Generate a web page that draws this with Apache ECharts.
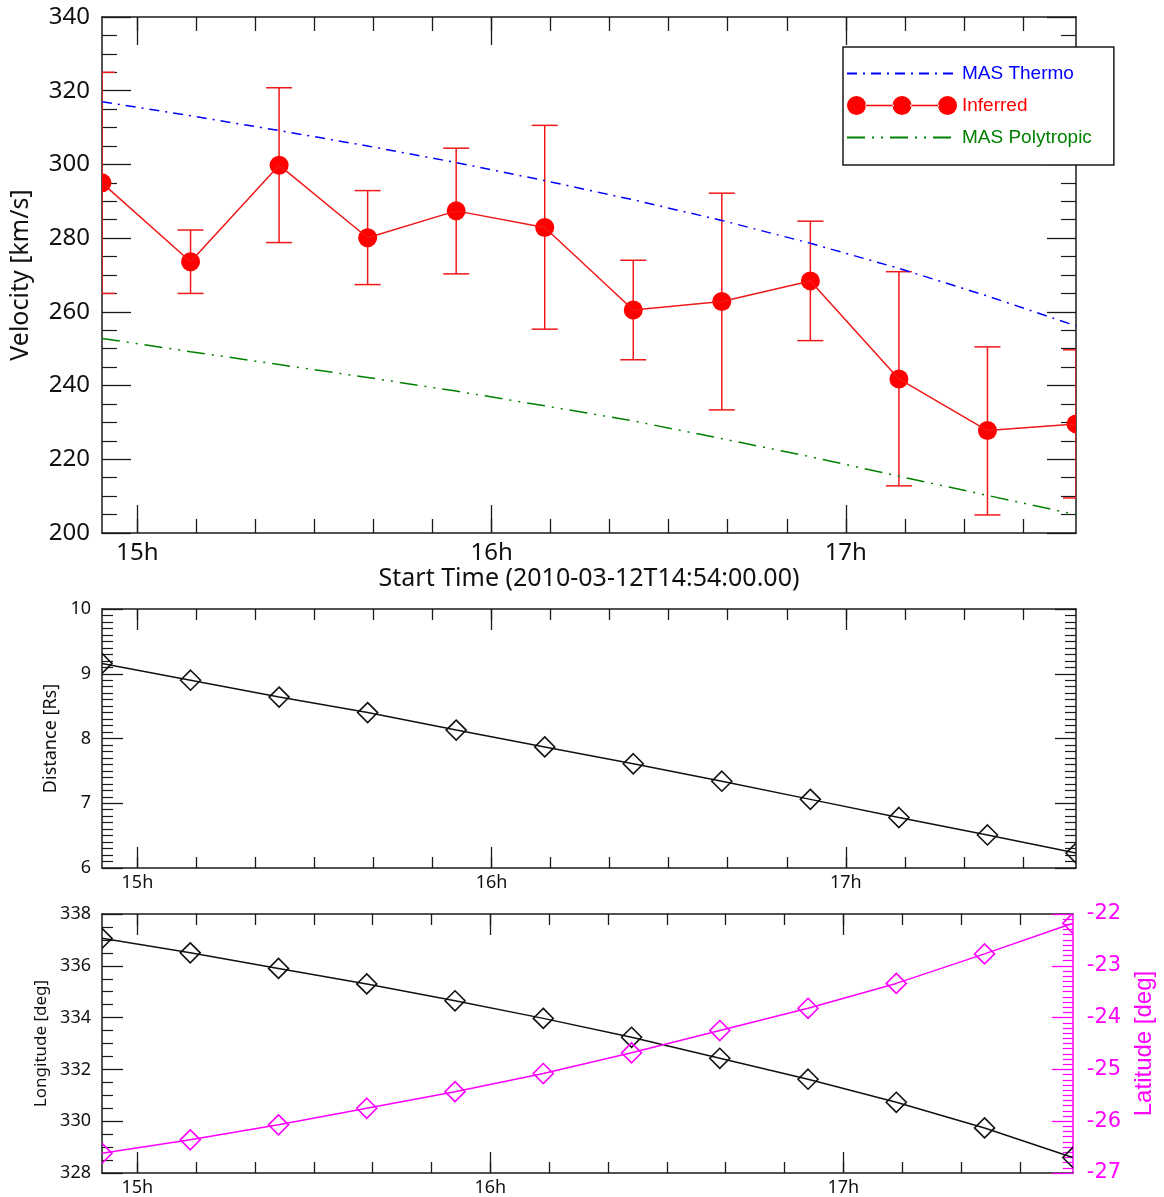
<!DOCTYPE html>
<html>
<head>
<meta charset="utf-8">
<script src="https://cdn.jsdelivr.net/npm/echarts@6/dist/echarts.min.js"></script>
<style>
html,body{margin:0;padding:0;background:#fff;}
#chart{width:1164px;height:1197px;}
</style>
</head>
<body>
<div id="chart"></div>
<script>
// ---- data ----
const times = ["14:54","15:09","15:24","15:39","15:54","16:09","16:24","16:39","16:54","17:09","17:24","17:39"];
const inferred  = [295.0, 273.6, 299.8, 280.1, 287.4, 282.9, 260.5, 262.8, 268.4, 241.8, 227.8, 229.6];
const errLow    = [265.0, 265.0, 278.8, 267.4, 270.3, 255.3, 247.0, 233.4, 252.2, 212.8, 204.9, 209.5];
const errHigh   = [325.0, 282.2, 320.8, 292.9, 304.4, 310.6, 274.0, 292.2, 284.6, 270.9, 250.5, 249.7];
const masThermo = [317.0, 313.2, 309.2, 305.0, 300.5, 295.6, 290.4, 284.8, 278.6, 271.8, 264.3, 256.2];
const masPoly   = [252.8, 249.2, 245.7, 242.2, 238.5, 234.5, 230.4, 225.6, 220.7, 215.4, 210.2, 205.0];
const distance  = [9.16, 8.90, 8.64, 8.40, 8.13, 7.87, 7.61, 7.34, 7.06, 6.78, 6.51, 6.23];
const longitude = [337.06, 336.50, 335.90, 335.30, 334.65, 333.97, 333.24, 332.43, 331.62, 330.73, 329.74, 328.60];
const latitude  = [-26.62, -26.36, -26.07, -25.75, -25.43, -25.08, -24.68, -24.25, -23.82, -23.34, -22.77, -22.18];
const majorHourTicks = [15, 16, 17];
const minorTickMinutes = [0,10,20,30,40,50,60,70,80,90,100,110,120,130,140,150]; // after 15h
const xTitle = "Start Time (2010-03-12T14:54:00.00)";

// ---- helpers ----
const toHour = s => { const p = s.split(':'); return +p[0] + (+p[1]) / 60; };
const xs = times.map(toHour);
const xMin = xs[0], xMax = xs[xs.length - 1];
const minorTicks = minorTickMinutes.map(m => 15 + m / 60);
const pair = arr => arr.map((v, i) => [xs[i], v]);

const FONT = 'Noto Sans';
const AX = {color: '#1a1a1a', width: 1.5};
const TK = {color: '#1a1a1a', width: 1.3};

function xAxesFor(grid, big, name) {
  const L = big ? [28, 14] : [21, 11];
  const fs = big ? 24 : 18;
  const base = {type: 'value', gridIndex: grid, min: xMin, max: xMax, splitLine: {show: false}};
  return [
    Object.assign({}, base, {
      position: 'bottom',
      axisLine: {show: true, lineStyle: AX},
      axisTick: {show: true, inside: true, length: L[0], customValues: majorHourTicks, lineStyle: TK},
      axisLabel: {show: true, customValues: majorHourTicks, formatter: v => Math.round(v) + 'h',
        margin: big ? 8 : 6, fontSize: fs, color: '#111', fontFamily: FONT},
      name: name || '', nameLocation: 'middle', nameGap: 32,
      nameTextStyle: {fontSize: 25, color: '#111', fontFamily: FONT}
    }),
    Object.assign({}, base, {
      position: 'bottom',
      axisLine: {show: false},
      axisTick: {show: true, inside: true, length: L[1], customValues: minorTicks, lineStyle: TK},
      axisLabel: {show: false}
    }),
    Object.assign({}, base, {
      position: 'top',
      axisLine: {show: true, lineStyle: AX},
      axisTick: {show: true, inside: true, length: L[0], customValues: majorHourTicks, lineStyle: TK},
      axisLabel: {show: false}
    }),
    Object.assign({}, base, {
      position: 'top',
      axisLine: {show: false},
      axisTick: {show: true, inside: true, length: L[1], customValues: minorTicks, lineStyle: TK},
      axisLabel: {show: false}
    })
  ];
}

function yAxisDef(o) {
  const color = o.color || '#1a1a1a';
  return {
    type: 'value', gridIndex: o.grid, position: o.position, min: o.min, max: o.max, interval: o.interval,
    axisLine: {show: true, lineStyle: {color: color, width: 1.5}},
    axisTick: {show: true, inside: true, length: o.major, lineStyle: {color: color, width: 1.3}},
    minorTick: {show: true, splitNumber: o.split, length: o.minor, lineStyle: {color: color, width: 1.2}},
    splitLine: {show: false}, minorSplitLine: {show: false},
    axisLabel: {show: !!o.labels, margin: o.margin || 12, fontSize: o.fs || 18, color: o.labelColor || '#111',
      fontFamily: o.labelFont || FONT},
    name: o.name || '', nameLocation: 'middle', nameGap: o.nameGap || 40,
    nameTextStyle: {fontSize: o.nameFs || 18, color: o.labelColor || '#111', fontFamily: o.nameFont || FONT}
  };
}

function errorBarItem(params, api) {
  const x = api.value(0), lo = api.value(1), hi = api.value(2);
  const a = api.coord([x, lo]), b = api.coord([x, hi]);
  const w = 13;
  const st = {stroke: '#f01818', lineWidth: 1.5};
  return {type: 'group', children: [
    {type: 'line', shape: {x1: a[0], y1: a[1], x2: b[0], y2: b[1]}, style: st},
    {type: 'line', shape: {x1: a[0] - w, y1: a[1], x2: a[0] + w, y2: a[1]}, style: st},
    {type: 'line', shape: {x1: b[0] - w, y1: b[1], x2: b[0] + w, y2: b[1]}, style: st}
  ]};
}
function circleItem(params, api) {
  const p = api.coord([api.value(0), api.value(1)]);
  return {type: 'circle', shape: {cx: p[0], cy: p[1], r: 9.5}, style: {fill: '#ff0000'}};
}
function diamondMaker(color) {
  return function (params, api) {
    const p = api.coord([api.value(0), api.value(1)]);
    const r = 10;
    return {type: 'polygon', shape: {points: [[p[0], p[1] - r], [p[0] + r, p[1]], [p[0], p[1] + r], [p[0] - r, p[1]]]},
      style: {fill: 'none', stroke: color, lineWidth: 1.6}};
  };
}

const inferredIcon = 'path://M0,9.5a9.5,9.5 0 1,0 19,0a9.5,9.5 0 1,0 -19,0Z' +
  'M45.5,9.5a9.5,9.5 0 1,0 19,0a9.5,9.5 0 1,0 -19,0Z' +
  'M91,9.5a9.5,9.5 0 1,0 19,0a9.5,9.5 0 1,0 -19,0Z' +
  'M18,8.75L47,8.75L47,10.25L18,10.25Z M63,8.75L92,8.75L92,10.25L63,10.25Z';

const hiddenSymbol = {opacity: 0, borderWidth: 0};

const option = {
  animation: false,
  backgroundColor: '#fff',
  grid: [
    {left: 102, top: 17, width: 974, height: 516},
    {left: 102, top: 609, width: 974, height: 259},
    {left: 102, top: 914, width: 974, height: 259}
  ],
  xAxis: [].concat(xAxesFor(0, true, xTitle), xAxesFor(1, false), xAxesFor(2, false)),
  yAxis: [
    yAxisDef({grid: 0, position: 'left', min: 200, max: 340, interval: 20, major: 29, minor: 15, split: 4,
      labels: true, fs: 24, margin: 12, name: 'Velocity [km/s]', nameGap: 69, nameFs: 25}),
    yAxisDef({grid: 0, position: 'right', min: 200, max: 340, interval: 20, major: 29, minor: 15, split: 4}),
    yAxisDef({grid: 1, position: 'left', min: 6, max: 10, interval: 1, major: 21, minor: 11, split: 10,
      labels: true, fs: 18, margin: 11, name: 'Distance [Rs]', nameGap: 42, nameFs: 18}),
    yAxisDef({grid: 1, position: 'right', min: 6, max: 10, interval: 1, major: 21, minor: 11, split: 10}),
    yAxisDef({grid: 2, position: 'left', min: 328, max: 338, interval: 2, major: 21, minor: 11, split: 4,
      labels: true, fs: 18, margin: 11, name: 'Longitude [deg]', nameGap: 51, nameFs: 17}),
    yAxisDef({grid: 2, position: 'right', min: -27, max: -22, interval: 1, major: 21, minor: 10, split: 10,
      color: '#ff00ff', labels: true, fs: 21, margin: 14, labelColor: '#ff00ff', labelFont: 'DejaVu Sans',
      name: 'Latitude [deg]', nameGap: 59, nameFs: 24, nameFont: 'Liberation Sans'})
  ],
  legend: {
    left: 843, top: 47, orient: 'vertical', itemWidth: 110, itemHeight: 19, itemGap: 13,
    padding: [17, 22, 18, 3], backgroundColor: '#fff', borderColor: '#1a1a1a', borderWidth: 1.5,
    selectedMode: false,
    textStyle: {fontFamily: 'Liberation Sans', fontSize: 19},
    data: [
      {name: 'MAS Thermo', itemStyle: hiddenSymbol, textStyle: {color: '#0000ff'}},
      {name: 'Inferred', icon: inferredIcon, textStyle: {color: '#ff0000'}},
      {name: 'MAS Polytropic', itemStyle: hiddenSymbol, textStyle: {color: '#008000'}}
    ]
  },
  series: [
    {name: 'MAS Thermo', type: 'line', xAxisIndex: 0, yAxisIndex: 0, data: pair(masThermo), symbol: 'none',
      lineStyle: {color: '#0000ff', width: 1.5, type: [10, 6, 2, 6]}, itemStyle: {color: '#0000ff'}},
    {name: 'MAS Polytropic', type: 'line', xAxisIndex: 0, yAxisIndex: 0, data: pair(masPoly), symbol: 'none',
      lineStyle: {color: '#008000', width: 1.5, type: [18, 7, 2, 7, 2, 7]}, itemStyle: {color: '#008000'}},
    {name: 'Inferred', type: 'line', xAxisIndex: 0, yAxisIndex: 0, data: pair(inferred), symbol: 'none',
      lineStyle: {color: '#f01818', width: 1.5}, itemStyle: {color: '#ff0000'}},
    {name: 'InferredErr', type: 'custom', xAxisIndex: 0, yAxisIndex: 0, clip: true,
      data: xs.map((x, i) => [x, errLow[i], errHigh[i]]), encode: {x: 0, y: [1, 2]}, renderItem: errorBarItem},
    {name: 'InferredPts', type: 'custom', xAxisIndex: 0, yAxisIndex: 0, clip: true,
      data: pair(inferred), encode: {x: 0, y: 1}, renderItem: circleItem},

    {name: 'Distance', type: 'line', xAxisIndex: 4, yAxisIndex: 2, data: pair(distance), symbol: 'none',
      lineStyle: {color: '#111', width: 1.5}},
    {name: 'DistancePts', type: 'custom', xAxisIndex: 4, yAxisIndex: 2, clip: true,
      data: pair(distance), encode: {x: 0, y: 1}, renderItem: diamondMaker('#111')},

    {name: 'Longitude', type: 'line', xAxisIndex: 8, yAxisIndex: 4, data: pair(longitude), symbol: 'none',
      lineStyle: {color: '#111', width: 1.5}},
    {name: 'LongitudePts', type: 'custom', xAxisIndex: 8, yAxisIndex: 4, clip: true,
      data: pair(longitude), encode: {x: 0, y: 1}, renderItem: diamondMaker('#111')},
    {name: 'Latitude', type: 'line', xAxisIndex: 8, yAxisIndex: 5, data: pair(latitude), symbol: 'none',
      lineStyle: {color: '#ff00ff', width: 1.5}},
    {name: 'LatitudePts', type: 'custom', xAxisIndex: 8, yAxisIndex: 5, clip: true,
      data: pair(latitude), encode: {x: 0, y: 1}, renderItem: diamondMaker('#ff00ff')}
  ]
};

const chart = echarts.init(document.getElementById('chart'), null, {renderer: 'canvas'});
chart.setOption(option);
</script>
</body>
</html>
